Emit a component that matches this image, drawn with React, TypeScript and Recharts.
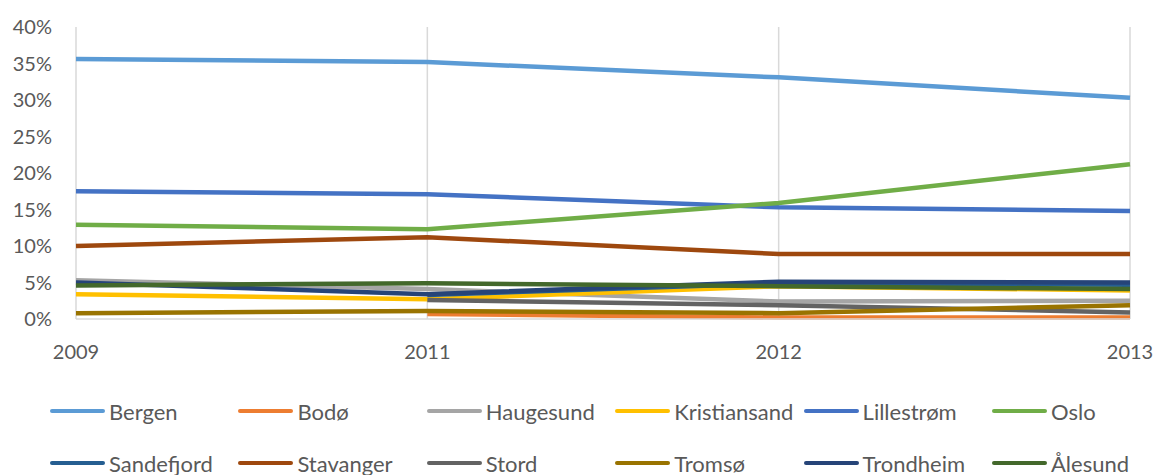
import { LineChart, Line, XAxis, YAxis, CartesianGrid, Legend } from 'recharts'

const years = ['2009', '2011', '2012', '2013']

const bergen = [35.6, 35.2, 33.1, 30.3]
const bodo = [null, 0.7, 0.2, 0.2]
const haugesund = [5.3, 4.1, 2.4, 2.5]
const kristiansand = [3.4, 2.7, 4.5, 3.9]
const lillestrom = [17.5, 17.1, 15.3, 14.8]
const oslo = [12.9, 12.3, 15.9, 21.2]
const sandefjord = [null, 3.3, 4.9, 4.7]
const stavanger = [10.0, 11.2, 8.9, 8.9]
const stord = [null, 2.6, 1.9, 0.9]
const tromso = [0.8, 1.1, 0.8, 1.9]
const trondheim = [5.0, 3.4, 5.1, 5.0]
const alesund = [4.6, 4.9, 4.5, 4.1]

const yTicks = [0, 5, 10, 15, 20, 25, 30, 35, 40]

const series = [
  { key: 'Bergen', values: bergen, color: '#5B9BD5' },
  { key: 'Bodø', values: bodo, color: '#ED7D31' },
  { key: 'Haugesund', values: haugesund, color: '#A5A5A5' },
  { key: 'Kristiansand', values: kristiansand, color: '#FFC000' },
  { key: 'Lillestrøm', values: lillestrom, color: '#4472C4' },
  { key: 'Oslo', values: oslo, color: '#70AD47' },
  { key: 'Sandefjord', values: sandefjord, color: '#255E91' },
  { key: 'Stavanger', values: stavanger, color: '#9E480E' },
  { key: 'Stord', values: stord, color: '#636363' },
  { key: 'Tromsø', values: tromso, color: '#997300' },
  { key: 'Trondheim', values: trondheim, color: '#264478' },
  { key: 'Ålesund', values: alesund, color: '#43682B' },
]

const data = years.map((year, i) => {
  const row: Record<string, string | number | null> = { year }
  series.forEach((s) => {
    row[s.key] = s.values[i]
  })
  return row
})

const font = 'Lato, "Open Sans", sans-serif'

function LegendBox() {
  return (
    <div style={{ position: 'relative', width: 1157, height: 76, fontFamily: font }}>
      {series.map((s, i) => {
        const col = i % 6
        const row = Math.floor(i / 6)
        return (
          <div
            key={s.key}
            style={{
              position: 'absolute',
              left: 50 + col * 188.4,
              top: row * 52,
              height: 26,
              display: 'flex',
              alignItems: 'center',
              fontSize: 22,
              color: '#595959',
              whiteSpace: 'nowrap',
            }}
          >
            <span
              style={{
                display: 'inline-block',
                width: 55,
                height: 4,
                borderRadius: 2,
                background: s.color,
                marginRight: 4,
              }}
            />
            {s.key}
          </div>
        )
      })}
    </div>
  )
}

export default function App() {
  return (
    <div style={{ position: 'absolute', left: 0, top: 0, background: '#fff' }}>
      <LineChart
        width={1157}
        height={475}
        data={data}
        margin={{ top: 27, right: 27, left: 16, bottom: 20 }}
      >
        <CartesianGrid horizontal={false} stroke="#d9d9d9" strokeWidth={1.5} />
        <XAxis
          dataKey="year"
          stroke="#d9d9d9"
          strokeWidth={1.5}
          tickLine={false}
          tickMargin={20}
          height={50}
          tick={{ fill: '#595959', fontSize: 20, fontFamily: font }}
        />
        <YAxis
          domain={[0, 40]}
          ticks={yTicks}
          axisLine={false}
          tickLine={false}
          tickMargin={18}
          width={60}
          tickFormatter={(v: number) => `${v}%`}
          tick={{ fill: '#595959', fontSize: 20, fontFamily: font }}
        />
        <Legend
          verticalAlign="bottom"
          height={86}
          content={() => <LegendBox />}
          wrapperStyle={{ left: 0, top: 398, width: 1157 }}
        />
        {series.map((s) => (
          <Line
            key={s.key}
            type="linear"
            dataKey={s.key}
            stroke={s.color}
            strokeWidth={4.5}
            dot={false}
            activeDot={false}
            isAnimationActive={false}
          />
        ))}
      </LineChart>
    </div>
  )
}
